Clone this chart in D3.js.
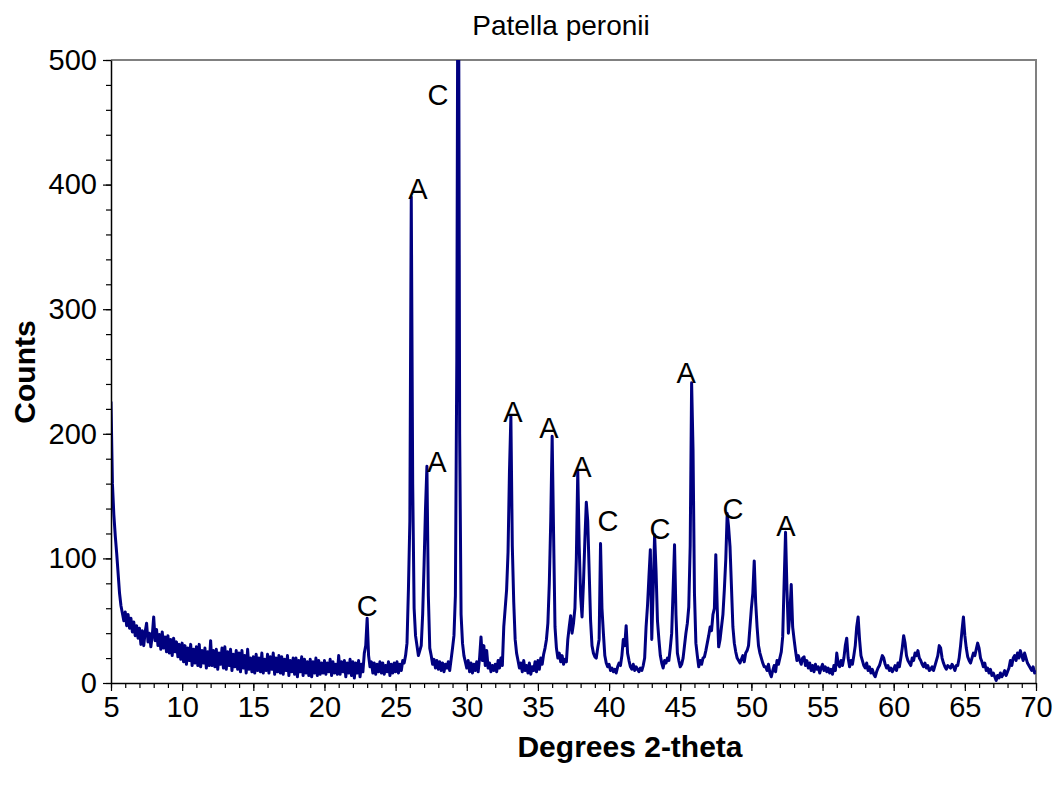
<!DOCTYPE html>
<html>
<head>
<meta charset="utf-8">
<script src="https://cdn.jsdelivr.net/npm/d3@7"></script>
<style>
  body { margin: 0; background: white; }
  text { font-family: "Liberation Sans", Arial, sans-serif; }
</style>
</head>
<body>
<div id="chart"></div>
<script>
// scan grid: 5 to 70 degrees, 0.1 degree step (one row per degree)
const scanStart = 5, scanStep = 0.1;

// counts, one row = one degree (x.0 .. x.9)
const counts = [
  226, 160, 135, 118, 104, 88, 72, 62, 56, 50,     // 5
  57, 46, 55, 44, 52, 41, 49, 38, 46, 36,          // 6
  44, 31, 42, 30, 41, 48, 33, 40, 29, 38,          // 7
  53, 34, 43, 30, 39, 27, 41, 28, 37, 25,          // 8
  38, 24, 35, 22, 36, 25, 33, 21, 31, 19,          // 9
  32, 17, 30, 15, 28, 18, 31, 14, 27, 16,          // 10
  29, 14, 31, 13, 26, 16, 28, 12, 25, 14,          // 11
  34, 14, 26, 13, 27, 11, 24, 15, 28, 12,          // 12
  29, 11, 25, 14, 27, 10, 23, 13, 26, 11,          // 13
  24, 9, 26, 12, 22, 8, 27, 11, 20, 9,             // 14
  21, 8, 23, 10, 20, 9, 24, 8, 19, 10,             // 15
  23, 8, 21, 11, 24, 7, 20, 9, 22, 8,              // 16
  21, 7, 19, 10, 22, 6, 18, 9, 20, 7,              // 17
  20, 5, 18, 9, 21, 6, 19, 8, 17, 6,               // 18
  19, 5, 17, 8, 20, 6, 18, 7, 16, 8,               // 19
  18, 7, 16, 9, 19, 6, 17, 8, 15, 7,               // 20
  22, 7, 17, 9, 18, 5, 16, 8, 19, 6,               // 21
  17, 4, 16, 8, 18, 5, 15, 9, 24, 30,              // 22
  52, 22, 13, 17, 8, 16, 7, 15, 9, 17,             // 23
  8, 16, 7, 14, 9, 17, 6, 15, 8, 16,               // 24
  9, 17, 8, 15, 10, 18, 16, 22, 32, 75,            // 25
  130, 390, 160, 60, 38, 30, 22, 26, 30, 55,       // 26
  95, 140, 174, 70, 28, 22, 15, 19, 12, 18,        // 27
  11, 17, 10, 16, 9, 15, 12, 17, 10, 19,           // 28
  28, 38, 70, 260, 700, 200, 55, 32, 22, 17,       // 29
  12, 18, 9, 16, 8, 15, 10, 17, 9, 20,             // 30
  37, 18, 30, 14, 26, 12, 16, 9, 14, 10,           // 31
  15, 9, 18, 12, 20, 14, 45, 60, 75, 105,          // 32
  170, 214, 110, 65, 35, 24, 18, 12, 16, 9,        // 33
  18, 10, 14, 8, 16, 7, 13, 10, 17, 9,             // 34
  18, 11, 20, 15, 23, 28, 35, 48, 80, 130,         // 35
  198, 120, 45, 28, 20, 24, 17, 22, 15, 19,        // 36
  17, 35, 45, 54, 40, 48, 60, 100, 170, 110,       // 37
  70, 53, 80, 115, 145, 130, 90, 50, 30, 24,       // 38
  21, 20, 28, 35, 112, 60, 40, 22, 16, 13,         // 39
  15, 10, 12, 9, 11, 8, 13, 16, 14, 22,            // 40
  35, 30, 46, 24, 18, 13, 11, 15, 10, 13,          // 41
  11, 9, 12, 10, 14, 20, 45, 62, 85, 107,          // 42
  35, 75, 119, 90, 50, 35, 22, 16, 12, 18,         // 43
  16, 20, 18, 28, 40, 75, 111, 55, 24, 18,         // 44
  13, 15, 20, 30, 40, 48, 61, 110, 241, 187,       // 45
  72, 32, 22, 13, 18, 15, 20, 21, 26, 32,          // 46
  38, 45, 42, 55, 60, 103, 60, 29, 35, 45,         // 47
  55, 75, 99, 136, 125, 109, 77, 45, 32, 25,       // 48
  20, 18, 16, 19, 22, 17, 24, 26, 30, 45,          // 49
  60, 72, 98, 65, 45, 30, 24, 20, 16, 13,          // 50
  13, 10, 15, 8, 5, 10, 14, 9, 18, 15,             // 51
  20, 25, 37, 80, 121, 75, 40, 55, 79, 45,         // 52
  35, 26, 18, 22, 18, 15, 20, 21, 14, 18,          // 53
  12, 16, 10, 14, 9, 15, 11, 13, 8, 12,            // 54
  15, 10, 13, 9, 12, 8, 11, 7, 14, 10,             // 55
  24, 15, 13, 18, 14, 20, 30, 36, 20, 13,          // 56
  18, 15, 22, 30, 45, 53, 35, 22, 18, 14,          // 57
  12, 16, 10, 13, 8, 11, 7, 5, 9, 12,              // 58
  14, 18, 22, 20, 15, 12, 14, 10, 12, 9,           // 59
  11, 14, 10, 16, 13, 20, 28, 38, 32, 22,          // 60
  18, 16, 14, 20, 18, 24, 22, 26, 20, 18,          // 61
  15, 13, 16, 12, 14, 10, 11, 13, 10, 14,          // 62
  18, 22, 30, 28, 20, 16, 13, 11, 14, 13,          // 63
  12, 15, 13, 10, 14, 14, 20, 30, 42, 53,          // 64
  38, 28, 21, 18, 16, 20, 24, 22, 27, 32,          // 65
  28, 20, 17, 13, 16, 10, 12, 8, 11, 6,            // 66
  8, 5, 2, 6, 4, 8, 5, 7, 10, 6,                   // 67
  9, 12, 18, 14, 20, 22, 18, 24, 20, 26,           // 68
  22, 18, 24, 20, 16, 14, 12, 10, 13, 8,           // 69
  10                                               // 70
];

// peak annotations (label centre in data units)
const peakNames  = ["C", "A", "A", "C", "A", "A", "A", "C", "C", "A", "C", "A"];
const peakDeg    = [23.0, 26.57, 27.91, 27.98, 33.25, 35.78, 38.1, 39.93, 43.58, 45.41, 48.7, 52.43];
const peakCounts = [62, 397, 178, 472, 218, 205, 174, 130, 124, 249, 140, 126];

const xTicks = [5, 10, 15, 20, 25, 30, 35, 40, 45, 50, 55, 60, 65, 70];
const yTicks = [0, 100, 200, 300, 400, 500];

const data = counts.map((c, i) => ({ deg: scanStart + i * scanStep, count: c }));

let margin = { top: 60, bottom: 113, left: 111, right: 24 };
let width = 1060, height = 796;

let svg = d3.select("#chart")
    .append("svg")
    .attr("width", width)
    .attr("height", height)
    .style("background", "white");

let xScale = d3.scaleLinear()
    .domain([5, 70])
    .range([margin.left, width - margin.right]);

let yScale = d3.scaleLinear()
    .domain([0, 500])
    .range([height - margin.bottom, margin.top]);

// clip so the big calcite peak stops at the frame
svg.append("clipPath").attr("id", "plotclip")
  .append("rect")
    .attr("x", margin.left)
    .attr("y", margin.top)
    .attr("width", width - margin.left - margin.right)
    .attr("height", height - margin.top - margin.bottom);

// grey frame on top and right
svg.append("path")
    .attr("d", `M${margin.left},${margin.top}H${width - margin.right}V${height - margin.bottom}`)
    .attr("fill", "none")
    .attr("stroke", "#808080")
    .attr("stroke-width", 2);

// the scan
let line = d3.line()
    .x(d => xScale(d.deg))
    .y(d => yScale(d.count));

svg.append("path")
    .datum(data)
    .attr("clip-path", "url(#plotclip)")
    .attr("fill", "none")
    .attr("stroke", "#000080")
    .attr("stroke-width", 3)
    .attr("stroke-linejoin", "round")
    .attr("d", line);

// minor ticks
svg.append("g")
    .attr("transform", `translate(0,${height - margin.bottom})`)
    .call(d3.axisBottom(xScale).tickValues(d3.range(5, 71, 1)).tickSize(5).tickFormat(""))
    .call(g => g.select(".domain").remove());

svg.append("g")
    .attr("transform", `translate(${margin.left},0)`)
    .call(d3.axisLeft(yScale).tickValues(d3.range(0, 501, 20)).tickSize(5).tickFormat(""))
    .call(g => g.select(".domain").remove());

// major axes
let xAxis = svg.append("g")
    .attr("transform", `translate(0,${height - margin.bottom})`)
    .call(d3.axisBottom(xScale).tickValues(xTicks).tickSizeInner(8).tickSizeOuter(0).tickPadding(5));

let yAxis = svg.append("g")
    .attr("transform", `translate(${margin.left},0)`)
    .call(d3.axisLeft(yScale).tickValues(yTicks).tickSizeInner(8).tickSizeOuter(0).tickPadding(6));

svg.selectAll(".tick line").attr("stroke", "black").attr("stroke-width", 1.2);
svg.selectAll(".domain").attr("stroke", "black").attr("stroke-width", 1.5);
svg.selectAll(".tick text")
    .style("font-family", "Liberation Sans, Arial, sans-serif")
    .style("font-size", "29px")
    .attr("fill", "black");

// peak labels
svg.selectAll(".peak")
    .data(peakNames)
    .enter()
    .append("text")
    .attr("class", "peak")
    .attr("x", (d, i) => xScale(peakDeg[i]))
    .attr("y", (d, i) => yScale(peakCounts[i]))
    .attr("dy", "0.36em")
    .style("text-anchor", "middle")
    .style("font-size", "29px")
    .text(d => d);

// title
svg.append("text")
    .attr("x", 561)
    .attr("y", 35)
    .style("text-anchor", "middle")
    .style("font-size", "28px")
    .text("Patella peronii");

// x-axis label
svg.append("text")
    .attr("x", 630)
    .attr("y", 757)
    .style("text-anchor", "middle")
    .style("font-size", "30px")
    .style("font-weight", "bold")
    .text("Degrees 2-theta");

// y-axis label
svg.append("text")
    .attr("transform", "translate(35,372) rotate(-90)")
    .style("text-anchor", "middle")
    .style("font-size", "30px")
    .style("font-weight", "bold")
    .text("Counts");
</script>
</body>
</html>
